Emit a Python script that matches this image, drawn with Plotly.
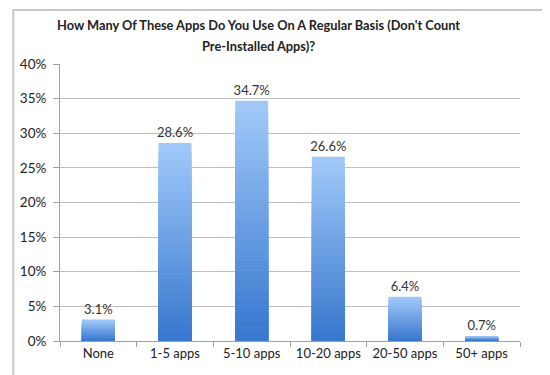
import plotly.graph_objects as go

categories = ["None", "1-5 apps", "5-10 apps", "10-20 apps", "20-50 apps", "50+ apps"]
values = [3.1, 28.6, 34.7, 26.6, 6.4, 0.7]
y_ticks = [0, 5, 10, 15, 20, 25, 30, 35, 40]
title_lines = ["How Many Of These Apps Do You Use On A Regular Basis (Don't Count",
               "Pre-Installed Apps)?"]

top = (160, 200, 249)
bottom = (56, 120, 206)
N = 24

L, R, T, B = 49, 38, 56, 42
W, H = 550, 375
pw, ph = W - L - R, H - T - B

fig = go.Figure()
for k in range(N):
    f = 1 - k / N
    t = k / (N - 1)
    c = tuple(round(top[i] + (bottom[i] - top[i]) * t) for i in range(3))
    fig.add_trace(go.Bar(
        x=categories,
        y=[v * f for v in values],
        marker=dict(color="rgb(%d,%d,%d)" % c, line=dict(width=0)),
        width=0.43,
        text=[f"{v:.1f}%" for v in values] if k == 0 else None,
        textposition="outside" if k == 0 else "none",
        constraintext="none",
        textfont=dict(family="Lato, sans-serif", size=13, color="#333333"),
        cliponaxis=False,
        showlegend=False,
        hoverinfo="skip",
    ))

annotations = []
for i, line in enumerate(title_lines):
    annotations.append(dict(
        text="<b>" + line + "</b>", xref="paper", yref="paper",
        x=(249 - L) / pw, y=1 + (T - (17 + 21 * i)) / ph,
        xanchor="center", yanchor="middle", showarrow=False,
        font=dict(family="Lato, sans-serif", size=12.8, color="#222222"),
    ))

fig.update_layout(
    barmode="overlay",
    width=W, height=H,
    margin=dict(l=L, r=R, t=T, b=B),
    paper_bgcolor="white",
    plot_bgcolor="white",
    font=dict(family="Lato, sans-serif", size=12, color="#333333"),
    annotations=annotations,
    shapes=[dict(type="rect", xref="paper", yref="paper",
                 x0=-(L - 2) / pw, x1=1 + (R - 2) / pw,
                 y0=-(B - 2) / ph, y1=1 + (T - 2) / ph,
                 line=dict(color="#c8c8c8", width=2))],
)
fig.update_xaxes(
    showgrid=False, showline=True, linecolor="#a0a0a0", linewidth=1,
    ticks="outside", tickson="boundaries", ticklen=5, tickcolor="#a0a0a0",
    tickfont=dict(size=13, color="#222222"),
)
fig.update_yaxes(
    range=[0, 40], tickvals=y_ticks, ticktext=[f"{v}%" for v in y_ticks],
    showgrid=True, gridcolor="#bfbfbf", gridwidth=1,
    showline=True, linecolor="#a0a0a0", ticks="outside", ticklen=6, tickcolor="#a0a0a0",
    ticklabelstandoff=4,
    tickfont=dict(size=13.5, color="#222222"), zeroline=False,
)

fig.write_html("out.html")
